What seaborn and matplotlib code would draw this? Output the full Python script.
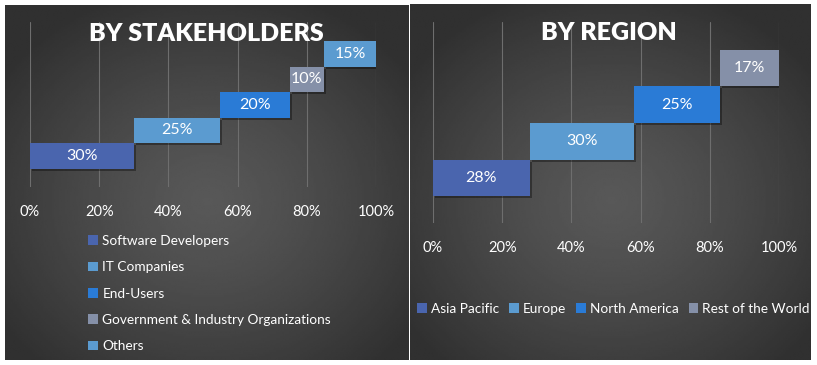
import numpy as np
import pandas as pd
import matplotlib
matplotlib.use("Agg")
import matplotlib.pyplot as plt
import matplotlib.patheffects as pe
from matplotlib.patches import Patch
import seaborn as sns

# data
stake_labels = ["Software Developers", "IT Companies", "End-Users",
                "Government & Industry Organizations", "Others"]
stake_values = [30, 25, 20, 10, 15]
stake_colors = ["#4a65ae", "#5b9bd0", "#2a7bd6", "#8590a8", "#5b9bd0"]

region_labels = ["Asia Pacific", "Europe", "North America", "Rest of the World"]
region_values = [28, 30, 25, 17]
region_colors = ["#4a65ae", "#5b9bd0", "#2a7bd6", "#8590a8"]

tick_values = [0, 20, 40, 60, 80, 100]
tick_labels = ["0%", "20%", "40%", "60%", "80%", "100%"]

sns.set_theme(style="dark")
plt.rcParams["font.family"] = ["Lato", "DejaVu Sans"]

W, H = 817, 365
fig = plt.figure(figsize=(W / 100, H / 100), dpi=100, facecolor="white")


def px_box(x0, y0, x1, y1):
    # pixel box (top-left origin) -> figure fraction rect
    return [x0 / W, 1 - y1 / H, (x1 - x0) / W, (y1 - y0) / H]


def panel_bg(box):
    ax = fig.add_axes(px_box(*box), zorder=0)
    ny, nx = 200, 220
    yy, xx = np.mgrid[0:ny, 0:nx]
    r = np.sqrt(((xx / nx - 0.5) / 0.62) ** 2 + ((yy / ny - 0.55) / 0.62) ** 2)
    r = np.clip(r, 0, 1)
    v = 0.345 - (0.345 - 0.19) * r ** 1.3
    ax.imshow(v, cmap="gray", vmin=0, vmax=1, aspect="auto", interpolation="bilinear")
    ax.set_axis_off()


def waterfall(box, labels, values, colors, ylo, yhi):
    ax = fig.add_axes(px_box(*box), zorder=1)
    ax.set_facecolor("none")
    df = pd.DataFrame({"label": labels, "value": values})
    df["start"] = df["value"].cumsum() - df["value"]
    order = labels[::-1]
    sns.barplot(data=df, x="value", y="label", hue="label", order=order,
                hue_order=labels, palette=dict(zip(labels, colors)),
                orient="h", width=1.0, dodge=False, legend=False,
                saturation=1, ax=ax, zorder=3)
    starts = dict(zip(df["label"], df["start"]))
    vals = dict(zip(df["label"], df["value"]))
    shadow = [pe.SimplePatchShadow(offset=(1.5, -1.5), shadow_rgbFace="black", alpha=0.35),
              pe.Normal()]
    for bar in ax.patches:
        yc = bar.get_y() + bar.get_height() / 2
        lab = order[int(round(yc))]
        bar.set_x(starts[lab])
        bar.set_linewidth(0)
        bar.set_path_effects(shadow)
        ax.text(starts[lab] + vals[lab] / 2, yc, f"{vals[lab]}%", color="white",
                ha="center", va="center", fontsize=11.5, zorder=4)
    ax.set_xlim(0, 100)
    ax.set_ylim(ylo, yhi)
    ax.set_xticks(tick_values, tick_labels)
    ax.set_yticks([])
    ax.set_xlabel("")
    ax.set_ylabel("")
    ax.tick_params(axis="x", colors="white", labelsize=10.5, length=0, pad=13)
    ax.grid(axis="x", color="#6e6e6e", linewidth=0.8)
    ax.set_axisbelow(True)
    for s in ax.spines.values():
        s.set_visible(False)
    return ax


panel_bg((5, 5, 409, 360))
panel_bg((410, 4, 811, 360))

n1 = len(stake_labels)
waterfall((30, 22, 376, 187), stake_labels, stake_values, stake_colors,
          n1 - 1 + 1.22, -1.25)
n2 = len(region_labels)
waterfall((433, 22, 779, 223), region_labels, region_values, region_colors,
          n2 - 1 + 1.23, -1.25)

fig.text(206 / W, 1 - 34 / H, "BY STAKEHOLDERS", color="white", fontsize=18,
         fontweight="heavy", ha="center", va="center", zorder=5)
fig.text(609 / W, 1 - 33 / H, "BY REGION", color="white", fontsize=18,
         fontweight="heavy", ha="center", va="center", zorder=5)

h1 = [Patch(facecolor=c, edgecolor="none", label=l)
      for l, c in zip(stake_labels, stake_colors)]
fig.legend(handles=h1, loc="upper left", bbox_to_anchor=(88 / W, 1 - 235 / H),
           frameon=False, fontsize=9.8, labelcolor="white", handlelength=0.7,
           handleheight=0.7, handletextpad=0.35, labelspacing=1.05,
           borderpad=0, borderaxespad=0)

h2 = [Patch(facecolor=c, edgecolor="none", label=l)
      for l, c in zip(region_labels, region_colors)]
fig.legend(handles=h2, loc="center left", bbox_to_anchor=(417 / W, 1 - 309 / H),
           ncol=4, frameon=False, fontsize=9.8, labelcolor="white",
           handlelength=0.7, handleheight=0.7, handletextpad=0.3,
           columnspacing=0.75, borderpad=0, borderaxespad=0)

fig.savefig("out.png", dpi=100, facecolor="white")
